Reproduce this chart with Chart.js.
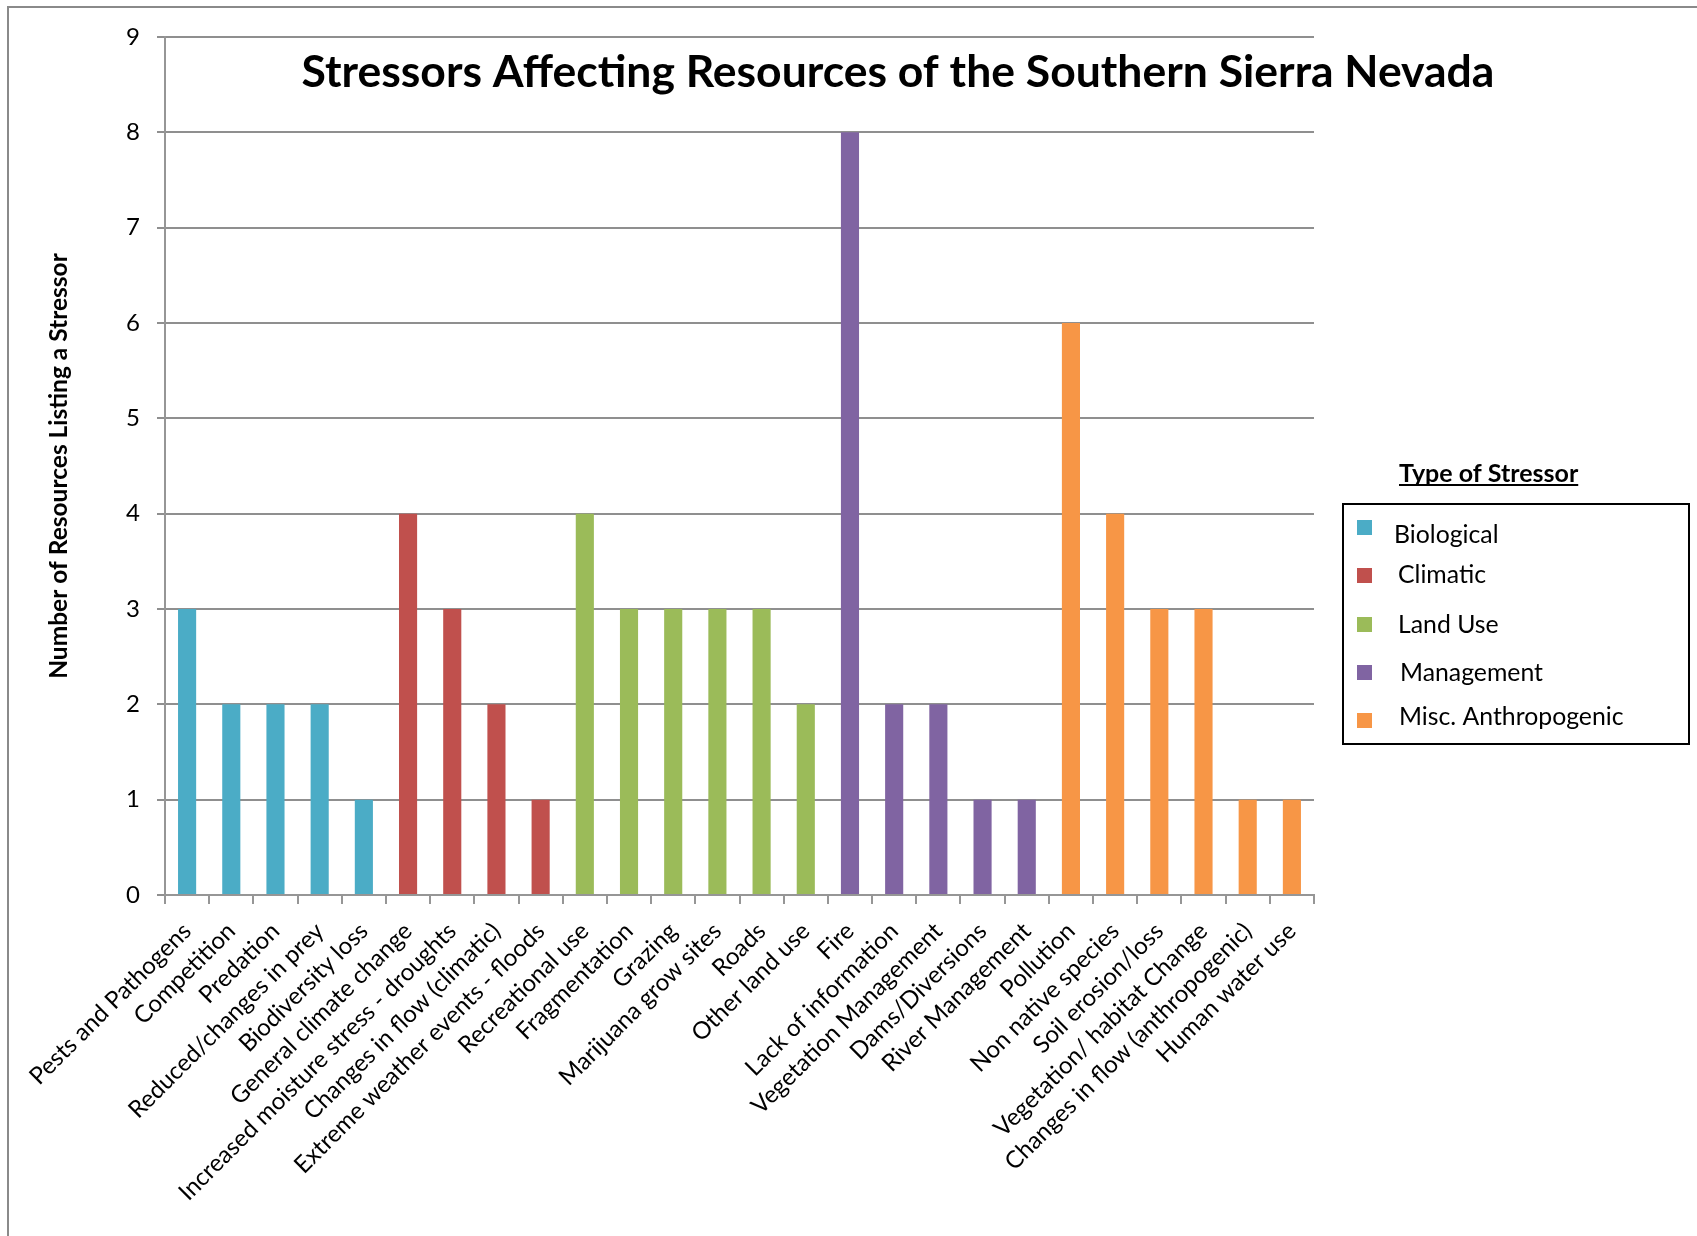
<!DOCTYPE html>
<html>
<head>
<meta charset="utf-8">
<title>Stressors Affecting Resources of the Southern Sierra Nevada</title>
<script src="https://cdn.jsdelivr.net/npm/chart.js@4.4.1/dist/chart.umd.min.js"></script>
<style>
  html, body { margin: 0; padding: 0; background: #ffffff; }
  canvas { display: block; }
</style>
</head>
<body>
<canvas id="chart" width="1697" height="1236"></canvas>
<script>
// ---- Data: stressor names and number of resources listing each, by type ----
const biologicalLabels = ['Pests and Pathogens', 'Competition', 'Predation', 'Reduced/changes in prey', 'Biodiversity loss'];
const biologicalValues = [3, 2, 2, 2, 1];

const climaticLabels = ['General climate change', 'Increased moisture stress - droughts', 'Changes in flow (climatic)', 'Extreme weather events - floods'];
const climaticValues = [4, 3, 2, 1];

const landUseLabels = ['Recreational use', 'Fragmentation', 'Grazing', 'Marijuana grow sites', 'Roads', 'Other land use'];
const landUseValues = [4, 3, 3, 3, 3, 2];

const managementLabels = ['Fire', 'Lack of information', 'Vegetation Management', 'Dams/Diversions', 'River Management'];
const managementValues = [8, 2, 2, 1, 1];

const miscLabels = ['Pollution', 'Non native species', 'Soil erosion/loss', 'Vegetation/ habitat Change', 'Changes in flow (anthropogenic)', 'Human water use'];
const miscValues = [6, 4, 3, 3, 1, 1];

const typeNames = ['Biological', 'Climatic', 'Land Use', 'Management', 'Misc. Anthropogenic'];
const typeColors = ['#4BACC6', '#C0504D', '#9BBB59', '#8064A2', '#F79646'];

const yTickValues = [0, 1, 2, 3, 4, 5, 6, 7, 8, 9];

const chartTitle = 'Stressors Affecting Resources of the Southern Sierra Nevada';
const yAxisTitle = 'Number of Resources Listing a Stressor';
const legendTitle = 'Type of Stressor';

// ---- Build the category axis and one dataset per stressor type ----
const groups = [
  [biologicalLabels, biologicalValues],
  [climaticLabels, climaticValues],
  [landUseLabels, landUseValues],
  [managementLabels, managementValues],
  [miscLabels, miscValues]
];
const categories = groups.flatMap(g => g[0]);

let offset = 0;
const datasets = groups.map((g, i) => {
  const start = offset;
  offset += g[1].length;
  const data = categories.map((_, k) =>
    (k >= start && k < start + g[1].length) ? g[1][k - start] : null);
  return {
    label: typeNames[i],
    data,
    backgroundColor: typeColors[i],
    borderWidth: 0,
    grouped: false,
    categoryPercentage: 1,
    barPercentage: 0.41
  };
});

// ---- Layout constants ----
const W = 1697, H = 1236;
const AREA = { left: 165, top: 37, right: 1314, bottom: 895 };
const PAD_LEFT = 44;
const FONT = 'Lato, "Open Sans", "DejaVu Sans", sans-serif';
const AXIS_GRAY = '#969696';

// Page frame around the chart
const framePlugin = {
  id: 'frame',
  beforeDraw(chart) {
    const ctx = chart.ctx;
    ctx.save();
    ctx.fillStyle = '#ffffff';
    ctx.fillRect(0, 0, W, H);
    ctx.strokeStyle = '#8a8a8a';
    ctx.lineWidth = 2;
    ctx.beginPath();
    ctx.moveTo(8, H);
    ctx.lineTo(8, 7);
    ctx.lineTo(W, 7);
    ctx.stroke();
    ctx.restore();
  }
};

// Title drawn inside the plot area, and the boxed legend on the right
const annotatePlugin = {
  id: 'annotate',
  afterDraw(chart) {
    const ctx = chart.ctx;
    ctx.save();

    // Chart title
    let size = 50;
    ctx.font = `bold ${size}px ${FONT}`;
    const w = ctx.measureText(chartTitle).width;
    size = size * 1193 / w;
    ctx.font = `bold ${size}px ${FONT}`;
    ctx.fillStyle = '#000';
    ctx.textAlign = 'center';
    ctx.textBaseline = 'middle';
    ctx.fillText(chartTitle, 898, 73);

    // Legend heading (bold, underlined)
    ctx.font = `bold 25px ${FONT}`;
    ctx.textAlign = 'left';
    ctx.textBaseline = 'alphabetic';
    const lx = 1399, ly = 482;
    ctx.fillText(legendTitle, lx, ly);
    const lw = ctx.measureText(legendTitle).width;
    ctx.fillRect(lx, ly + 2, lw, 2);

    // Legend box
    ctx.strokeStyle = '#000';
    ctx.lineWidth = 2;
    ctx.strokeRect(1343, 504, 346, 240);

    // Legend entries
    const swatchY = [520, 568, 617, 665, 713];
    const textX = [1394, 1398, 1398, 1400, 1399];
    const textY = [543, 583, 633, 681, 725];
    ctx.font = `24.8px ${FONT}`;
    chart.data.datasets.forEach((ds, i) => {
      ctx.fillStyle = ds.backgroundColor;
      ctx.fillRect(1357, swatchY[i], 15, 15);
      ctx.fillStyle = '#000';
      ctx.fillText(ds.label, textX[i], textY[i]);
    });

    ctx.restore();
  }
};

Chart.defaults.font.family = FONT;
Chart.defaults.color = '#000';

new Chart(document.getElementById('chart'), {
  type: 'bar',
  data: { labels: categories, datasets },
  plugins: [framePlugin, annotatePlugin],
  options: {
    responsive: false,
    animation: false,
    events: [],
    layout: { padding: { left: PAD_LEFT, top: AREA.top, right: W - AREA.right, bottom: 0 } },
    plugins: {
      legend: { display: false },
      title: { display: false },
      tooltip: { enabled: false }
    },
    scales: {
      x: {
        grid: {
          offset: true,
          drawOnChartArea: false,
          drawTicks: true,
          tickLength: 9,
          color: AXIS_GRAY,
          lineWidth: 2
        },
        border: { color: AXIS_GRAY, width: 2 },
        ticks: {
          autoSkip: false,
          maxRotation: 45,
          minRotation: 45,
          padding: 13,
          font: { size: 24 },
          color: '#000'
        },
        afterFit(scale) { scale.height = H - AREA.bottom; }
      },
      y: {
        min: 0,
        max: 9,
        afterBuildTicks(scale) { scale.ticks = yTickValues.map(v => ({ value: v })); },
        ticks: {
          padding: 17,
          font: { size: 24 },
          color: '#000'
        },
        grid: {
          color: '#8f8f8f',
          lineWidth: 2,
          drawTicks: true,
          tickLength: 8
        },
        border: { color: AXIS_GRAY, width: 2 },
        title: {
          display: true,
          text: yAxisTitle,
          font: { size: 24.5, weight: 'bold' },
          color: '#000',
          padding: { top: 0, bottom: 0 }
        },
        afterFit(scale) { scale.width = AREA.left - PAD_LEFT; }
      }
    }
  }
});
</script>
</body>
</html>
